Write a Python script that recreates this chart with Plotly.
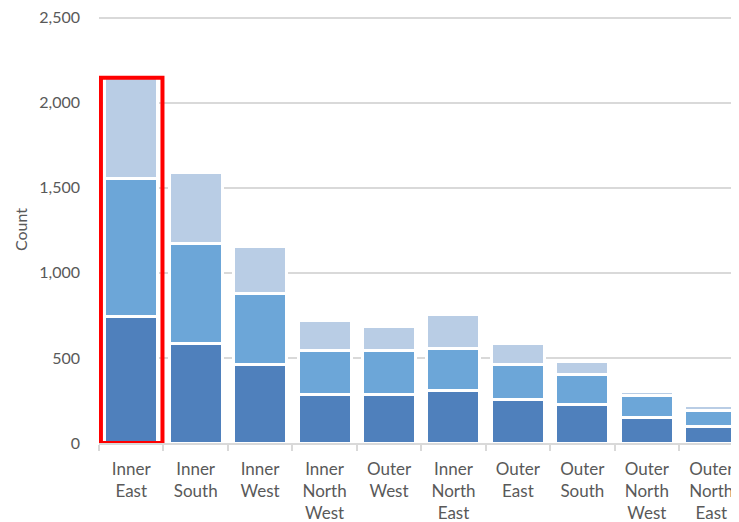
import plotly.graph_objects as go

categories = ["Inner<br>East", "Inner<br>South", "Inner<br>West", "Inner<br>North<br>West",
              "Outer<br>West", "Inner<br>North<br>East", "Outer<br>East", "Outer<br>South",
              "Outer<br>North<br>West", "Outer<br>North<br>East"]
bottom_vals = [742, 583, 463, 284, 288, 309, 258, 228, 149, 95]
middle_vals = [811, 589, 414, 262, 254, 245, 202, 172, 131, 95]
top_vals = [594, 417, 281, 177, 140, 203, 122, 82, 22, 32]

colors = ["#4F80BC", "#6CA6D8", "#B9CDE5"]
series = [bottom_vals, middle_vals, top_vals]

fig = go.Figure()
for vals, c in zip(series, colors):
    fig.add_trace(go.Bar(
        x=categories, y=vals,
        marker=dict(color=c, line=dict(color="white", width=3)),
        hoverinfo="skip",
    ))

highlight_total = bottom_vals[0] + middle_vals[0] + top_vals[0]
fig.add_shape(type="rect", xref="x", yref="y",
              x0=-0.47, x1=0.485, y0=0, y1=highlight_total,
              line=dict(color="#FF0000", width=4), fillcolor="rgba(0,0,0,0)")

font_family = "Lato, 'Open Sans', sans-serif"
# page body has an 8px default margin; size the figure to fit the window
fig.update_layout(
    barmode="stack",
    bargap=0.178,
    width=731, height=514,
    margin=dict(l=91, r=0, t=8, b=79, autoexpand=False),
    paper_bgcolor="white", plot_bgcolor="white",
    showlegend=False,
    font=dict(family=font_family, color="#595959", size=16),
)
fig.update_xaxes(
    type="category",
    range=[-0.5, 9.43],
    automargin=False,
    showline=True, linecolor="#D9D9D9", linewidth=1.5,
    ticks="outside", tickson="boundaries", ticklen=6, tickcolor="#D9D9D9", tickwidth=1.5,
    ticklabelstandoff=10,
    tickfont=dict(size=17, color="#595959", family=font_family),
    showgrid=False,
)
fig.update_yaxes(
    range=[0, 2510], dtick=500,
    tickformat=",d",
    automargin=False,
    ticklabeloverflow="allow",
    showgrid=True, gridcolor="#D9D9D9", gridwidth=1.5,
    zeroline=False, showline=False,
    ticklabelstandoff=18,
    tickfont=dict(size=16, color="#595959", family=font_family),
    title=dict(text="Count", font=dict(size=16, color="#595959", family=font_family), standoff=7),
)

fig.write_html("out.html")
